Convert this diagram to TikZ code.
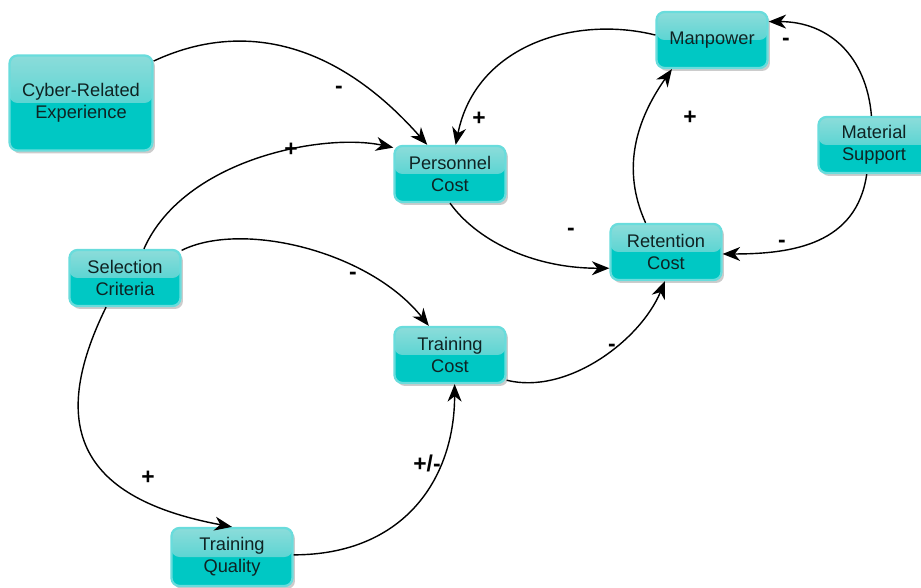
\documentclass[tikz,border=0pt]{standalone}
\usepackage{fontspec}
\setmainfont{Liberation Sans}
\usetikzlibrary{arrows.meta,shadows}
\definecolor{boxtop}{RGB}{140,220,218}
\definecolor{boxmid}{RGB}{45,206,204}
\definecolor{boxfill}{RGB}{0,200,196}
\definecolor{boxline}{RGB}{105,220,220}
\definecolor{boxtext}{RGB}{15,35,35}
\begin{document}
\begin{tikzpicture}[x=0.02cm,y=-0.02cm]
	\tikzstyle{box}=[draw=boxline,line width=1.3pt,rounded corners=0.16cm,fill=boxfill,
		minimum width=2.22cm,minimum height=1.12cm,inner sep=1pt,align=center,
		text=boxtext,font=\fontsize{10.4}{12.5}\selectfont,
		drop shadow={shadow xshift=0.05cm,shadow yshift=-0.06cm,opacity=0.2,fill=black},
		path picture={\fill[top color=boxtop,bottom color=boxmid]
			(path picture bounding box.north west) rectangle (path picture bounding box.east);}]
	\tikzstyle{link}=[black,line width=0.8pt,-{Stealth[length=0.35cm,width=0.28cm,inset=0.11cm]}]
	\tikzstyle{sign}=[font=\fontsize{13}{14}\selectfont\bfseries]
	\useasboundingbox (0,0) rectangle (921,588);
	% boxes
	\node[box,minimum width=2.86cm,minimum height=1.9cm] (cyber) at (81,103) {Cyber-Related\\Experience};
	\node[box] (manpower) at (712,40) {Manpower};
	\node[box] (material) at (874,145) {Material\\Support};
	\node[box] (personnel) at (450,174) {Personnel\\Cost};
	\node[box] (retention) at (666,252) {Retention\\Cost};
	\node[box] (selection) at (125,278) {Selection\\Criteria};
	\node[box] (tcost) at (450,355) {Training\\Cost};
	\node[box,minimum width=2.42cm,minimum height=1.16cm] (tquality) at (232,557) {Training\\Quality};
	% links
	\draw[link] (cyber.30) .. controls +(90,-42) and +(-90,-102) .. (personnel.128);
	\draw[link] (selection.57) .. controls +(40,-90) and +(-70,-15) .. (personnel.155);
	\draw[link] (selection.26) .. controls +(60,-30) and +(-60,-75) .. (tcost.126);
	\draw[link] (selection.237) .. controls +(-60,122) and +(-150,-28) .. (tquality.north);
	\draw[link] (tquality.2) .. controls +(110,0) and +(0,95) .. (tcost.279);
	\draw[link] (tcost.336) .. controls +(60,15) and +(-25,60) .. (retention.268);
	\draw[link] (personnel.south) .. controls +(25,35) and +(-80,0) .. (retention.196);
	\draw[link] (retention.125) .. controls +(-25,-55) and +(-35,50) .. (manpower.216);
	\draw[link] (manpower.175) .. controls +(-80,-20) and +(20,-100) .. (personnel.79);
	\draw[link] (material.95) .. controls +(-5,-60) and +(60,0) .. (manpower.18);
	\draw[link] (material.256) .. controls +(-10,70) and +(70,0) .. (retention.358);
	% signs
	\node[sign] (s1) at (339,90) {-};
	\node[sign] (s2) at (291,150) {+};
	\node[sign] (s3) at (353,276) {-};
	\node[sign] (s4) at (148,478) {+};
	\node[sign] (s5) at (427,463) {+/-};
	\node[sign] (s6) at (612,348) {-};
	\node[sign] (s7) at (571,232) {-};
	\node[sign] (s8) at (690,118) {+};
	\node[sign] (s9) at (479,119) {+};
	\node[sign] (s10) at (786,42) {-};
	\node[sign] (s11) at (782,244) {-};
\end{tikzpicture}
\end{document}
